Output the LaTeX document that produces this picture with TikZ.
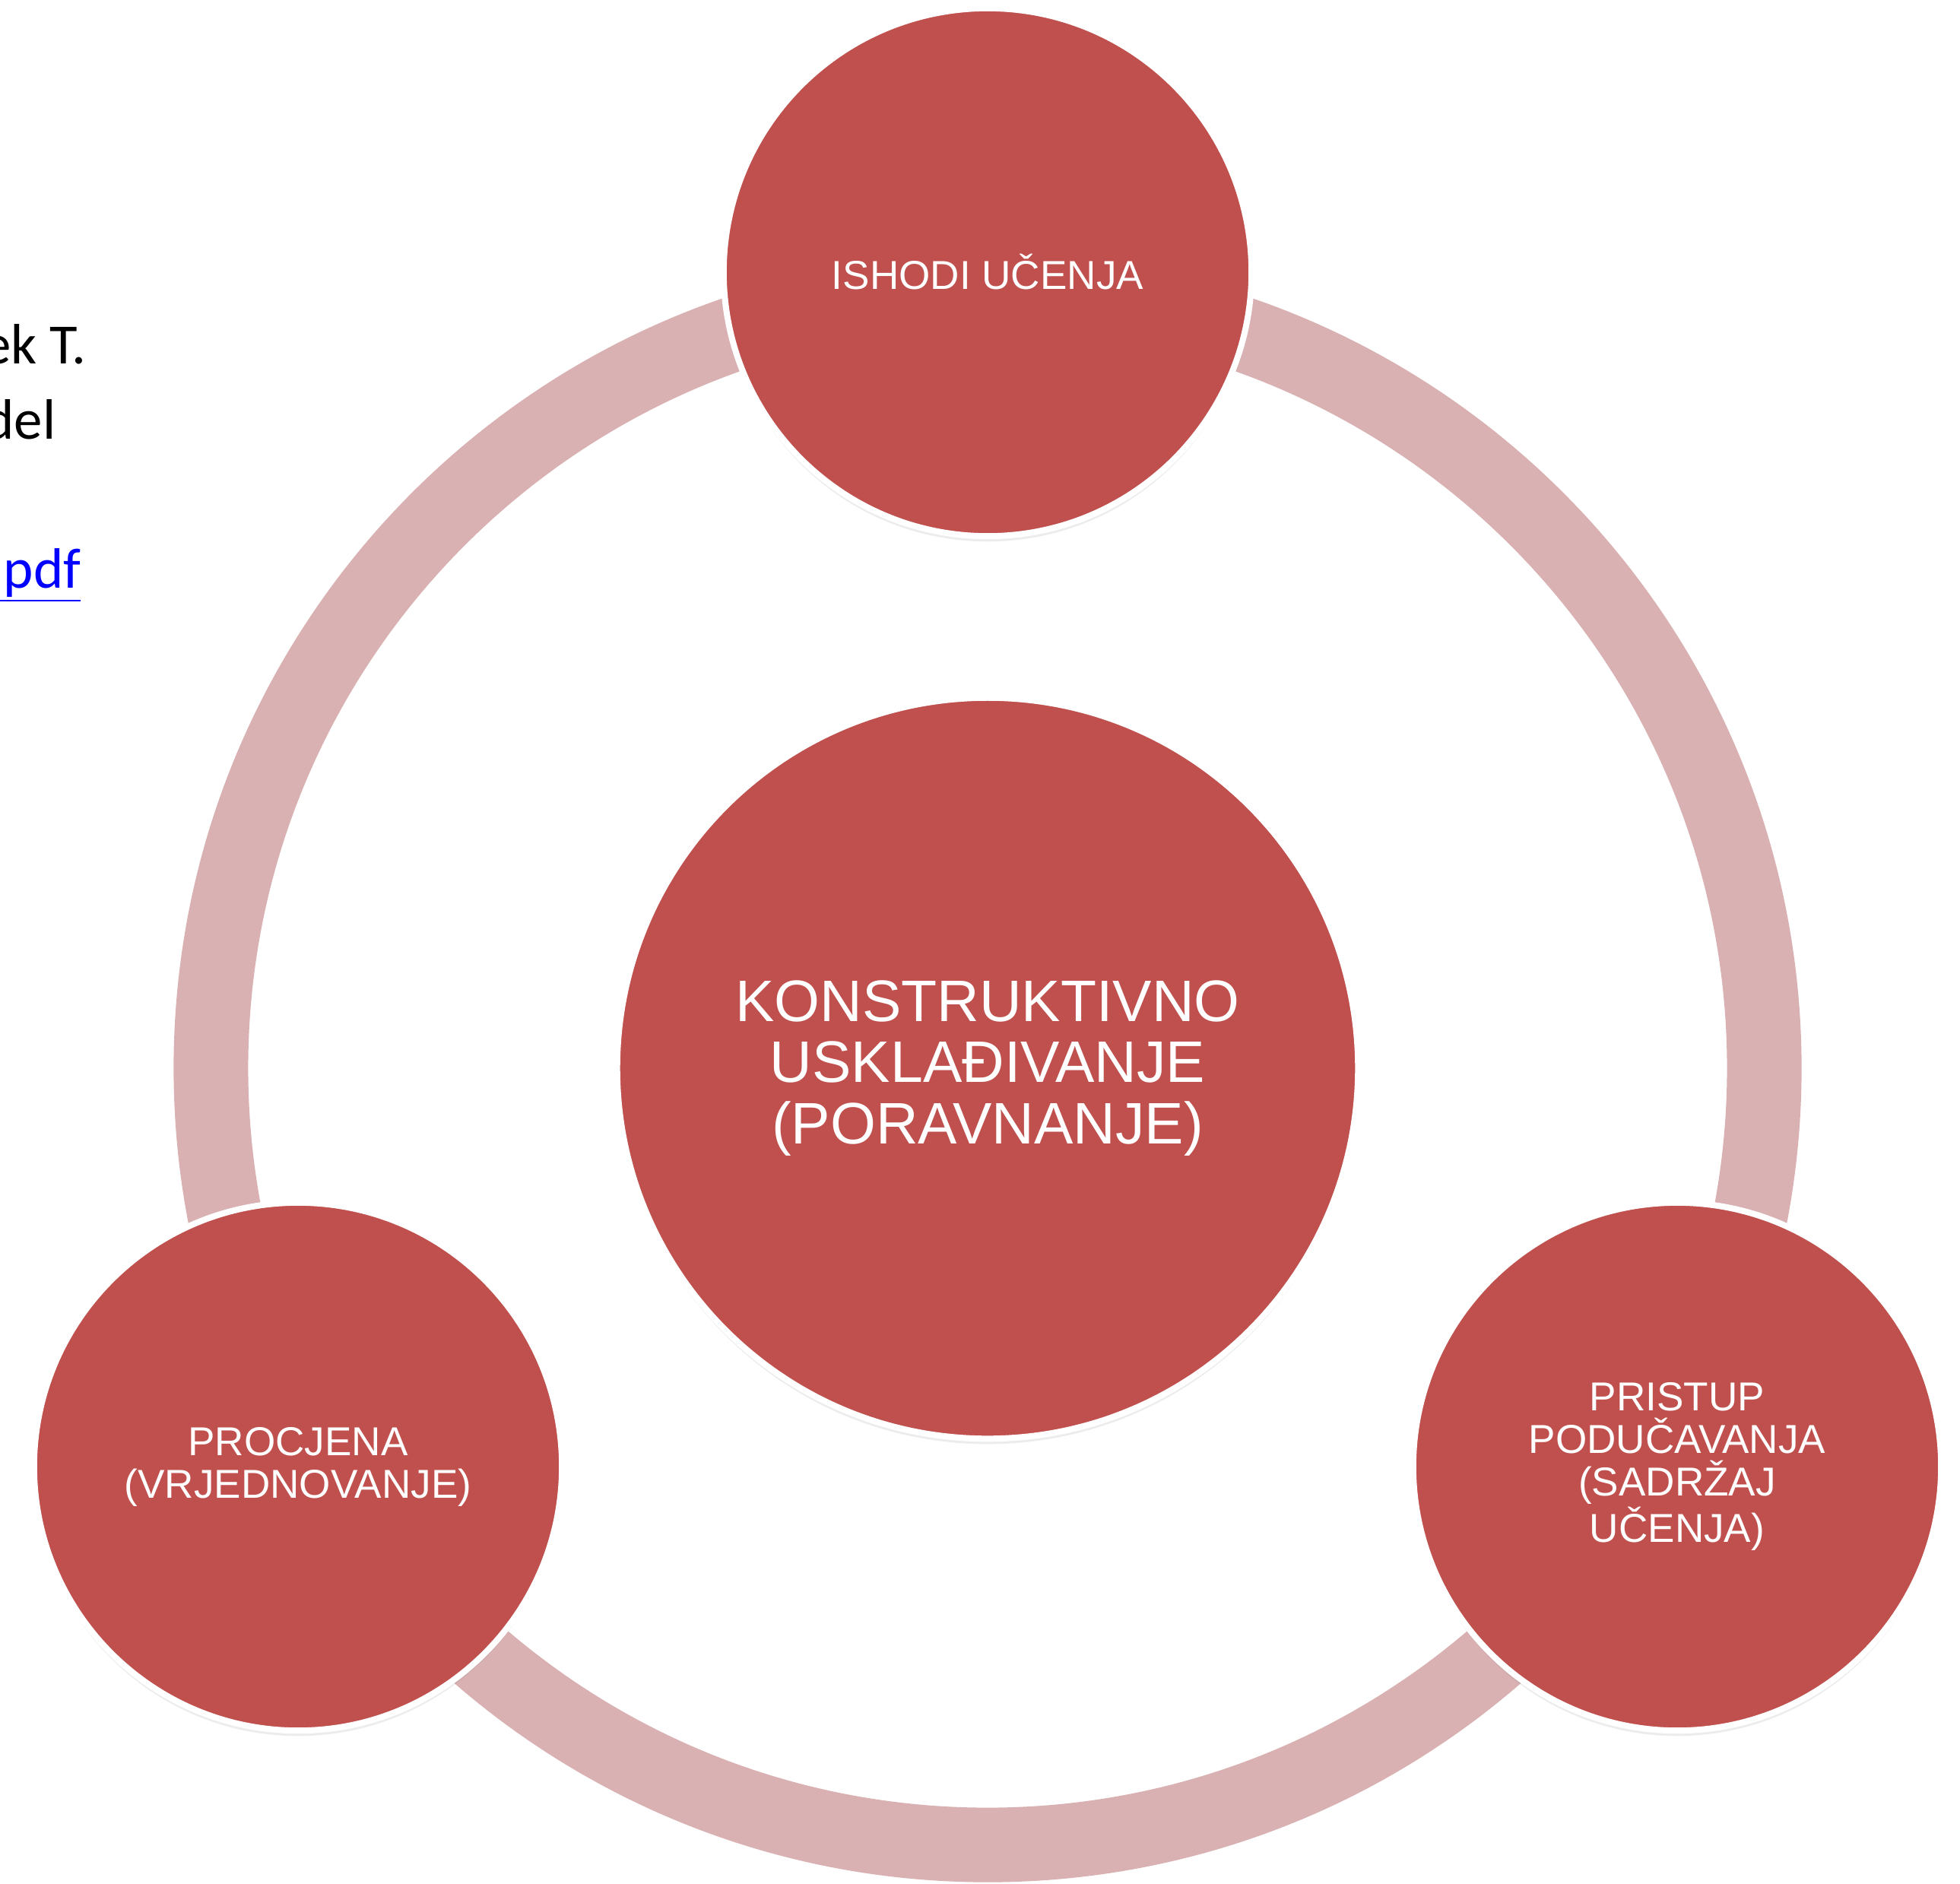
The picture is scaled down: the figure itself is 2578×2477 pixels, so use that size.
\documentclass[tikz,border=0pt]{standalone}
\usepackage{fontspec}
\setmainfont{Liberation Sans}
\newfontfamily\calibri{Carlito}
\usetikzlibrary{shadows}
\definecolor{accentred}{RGB}{192,80,77}
\definecolor{ringpink}{RGB}{218,177,178}
\definecolor{linkblue}{RGB}{0,0,255}

\begin{document}
\begin{tikzpicture}[x=0.01cm,y=-0.01cm]
\tikzstyle{phase}=[circle,fill=accentred,draw=white,line width=0.08cm,inner sep=0pt,text=white,align=center,drop shadow={shadow xshift=0pt,shadow yshift=-2pt,opacity=0.15}]
\tikzstyle{stage}=[phase,minimum size=6.94cm,font=\fontsize{15.1pt}{15.9pt}\selectfont]
\tikzstyle{hub}=[phase,minimum size=9.74cm,font=\fontsize{21.9pt}{22.8pt}\selectfont]
\tikzstyle{ring}=[draw=ringpink,line width=0.98cm]
\tikzstyle{note}=[anchor=base east,inner sep=0pt,font=\calibri\fontsize{21.3pt}{28.2pt}\selectfont]
\fill[white] (0,0) rectangle (2578,2477);
\useasboundingbox (0,0) rectangle (2578,2477);
% notes on the left, cut by the page edge
\node[note] (author) at (114,478) {ek T.};
\node[note] (model) at (74,577) {del};
\node[note,text=linkblue] (link) at (107,773) {\underline{.pdf}};
% cycle
\coordinate (mid) at (1299,1405);
\draw[ring] (mid) circle[radius=10.21cm];
\node[hub] (align) at (mid) {KONSTRUKTIVNO\\USKLAĐIVANJE\\(PORAVNANJE)};
\node[stage] (outcomes) at (1299,358) {ISHODI UČENJA};
\node[stage] (teaching) at (2206,1929) {PRISTUP\\PODUČAVANJA\\(SADRŽAJ\\UČENJA)};
\node[stage] (assess) at (392,1929) {PROCJENA\\(VRJEDNOVANJE)};
\end{tikzpicture}
\end{document}
